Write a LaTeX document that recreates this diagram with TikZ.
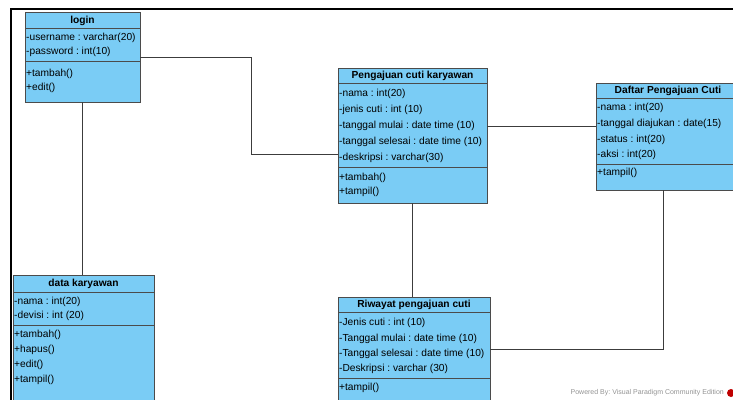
\documentclass[tikz,border=0pt]{standalone}
\usepackage{fontspec}
\setmainfont{Liberation Sans}
\frenchspacing
\usetikzlibrary{positioning,calc}
\definecolor{clsfill}{RGB}{122,204,245}
\definecolor{clsline}{RGB}{75,75,75}
\definecolor{lnkgray}{RGB}{60,60,60}
\tikzset{
  classbox/.style={draw=clsline, fill=clsfill, line width=0.9pt, inner sep=0pt, outer sep=0pt},
  hdr/.style={font=\fontsize{10.2}{12}\selectfont\bfseries, inner sep=0pt},
  attr/.style={font=\fontsize{10.2}{12}\selectfont, anchor=west, inner sep=0pt},
  sepline/.style={clsline, line width=0.9pt},
  lnk/.style={lnkgray, line width=0.8pt},
}
\begin{document}
\begin{tikzpicture}[x=1pt,y=-1pt]
  \useasboundingbox (0,0) rectangle (733,399);
  \clip (0,0) rectangle (733,399);
  % frame
  \draw[line width=2pt] (11,410) -- (11,9) -- (745,9);
  % classes
  \node[classbox, minimum width=115pt, minimum height=90pt] (login) at (82.5,57) {};
  \node[classbox, minimum width=149pt, minimum height=135pt] (peng) at (412.5,135.5) {};
  \node[classbox, minimum width=144pt, minimum height=107pt] (daftar) at (668,136.5) {};
  \node[classbox, minimum width=141pt, minimum height=130pt] (datak) at (83.5,340) {};
  \node[classbox, minimum width=152pt, minimum height=108pt] (riwayat) at (414,351) {};
  \foreach \n/\y in {login/28, login/61, peng/83, peng/167, daftar/98, daftar/164,
                     datak/292, datak/325, riwayat/312, riwayat/378}
    \draw[sepline] (\n.west |- 0,\y) -- (\n.east |- 0,\y);
  % headers
  \node[hdr] (login-h) at (login.north |- 0,20.5) {login};
  \node[hdr] (peng-h) at (peng.north |- 0,76) {Pengajuan cuti karyawan};
  \node[hdr] (daftar-h) at (daftar.north |- 0,91) {Daftar Pengajuan Cuti};
  \node[hdr] (datak-h) at (datak.north |- 0,284) {data karyawan};
  \node[hdr] (riwayat-h) at (riwayat.north |- 0,305) {Riwayat pengajuan cuti};
  % attributes and operations
  \foreach \y/\t [count=\i] in {37.5/-username : varchar(20), 51.5/-password : int(10),
                                73.5/+tambah(), 87.5/+edit()}
    \node[attr] (login-\i) at (26,\y) {\t};
  \foreach \y/\t [count=\i] in {93.5/-nama : int(20), 109.5/-jenis cuti : int (10),
                                125.5/-tanggal mulai : date time (10), 141.5/-tanggal selesai : date time (10),
                                157.5/-deskripsi : varchar(30), 177.5/+tambah(), 191.5/+tampil()}
    \node[attr] (peng-\i) at (339,\y) {\t};
  \foreach \y/\t [count=\i] in {107.5/-nama : int(20), 123.5/-tanggal diajukan : date(15),
                                139.5/-status : int(20), 154.5/-aksi : int(20), 172.5/+tampil()}
    \node[attr] (daftar-\i) at (597,\y) {\t};
  \foreach \y/\t [count=\i] in {301.5/-nama : int(20), 315.5/-devisi : int (20), 334.5/+tambah(),
                                349.5/+hapus(), 364.5/+edit(), 379.5/+tampil()}
    \node[attr] (datak-\i) at (14,\y) {\t};
  \foreach \y/\t [count=\i] in {322.5/-Jenis cuti : int (10), 338.5/-Tanggal mulai : date time (10),
                                353.5/-Tanggal selesai : date time (10), 368.5/-Deskripsi : varchar (30),
                                387.5/+tampil()}
    \node[attr] (riwayat-\i) at (339,\y) {\t};
  % associations
  \coordinate (b1) at (251,154);
  \coordinate (b2) at (0,126);
  \coordinate (b3) at (663,349);
  \draw[lnk] (login.east) -| (b1) -- (b1 -| peng.west);
  \draw[lnk] (peng.east |- b2) -- (daftar.west |- b2);
  \draw[lnk] (login.south) -- (datak.north -| login.south);
  \draw[lnk] (peng.south) -- (riwayat.north -| peng.south);
  \draw[lnk] (daftar.south -| b3) |- (riwayat.east |- b3);
  % watermark
  \node[font=\fontsize{7}{8}\selectfont, text=gray!85, anchor=east, inner sep=0pt] (wm) at (724,393)
    {Powered By: Visual Paradigm Community Edition};
  \fill[red!75!black] (731,393) circle (4);
\end{tikzpicture}
\end{document}
